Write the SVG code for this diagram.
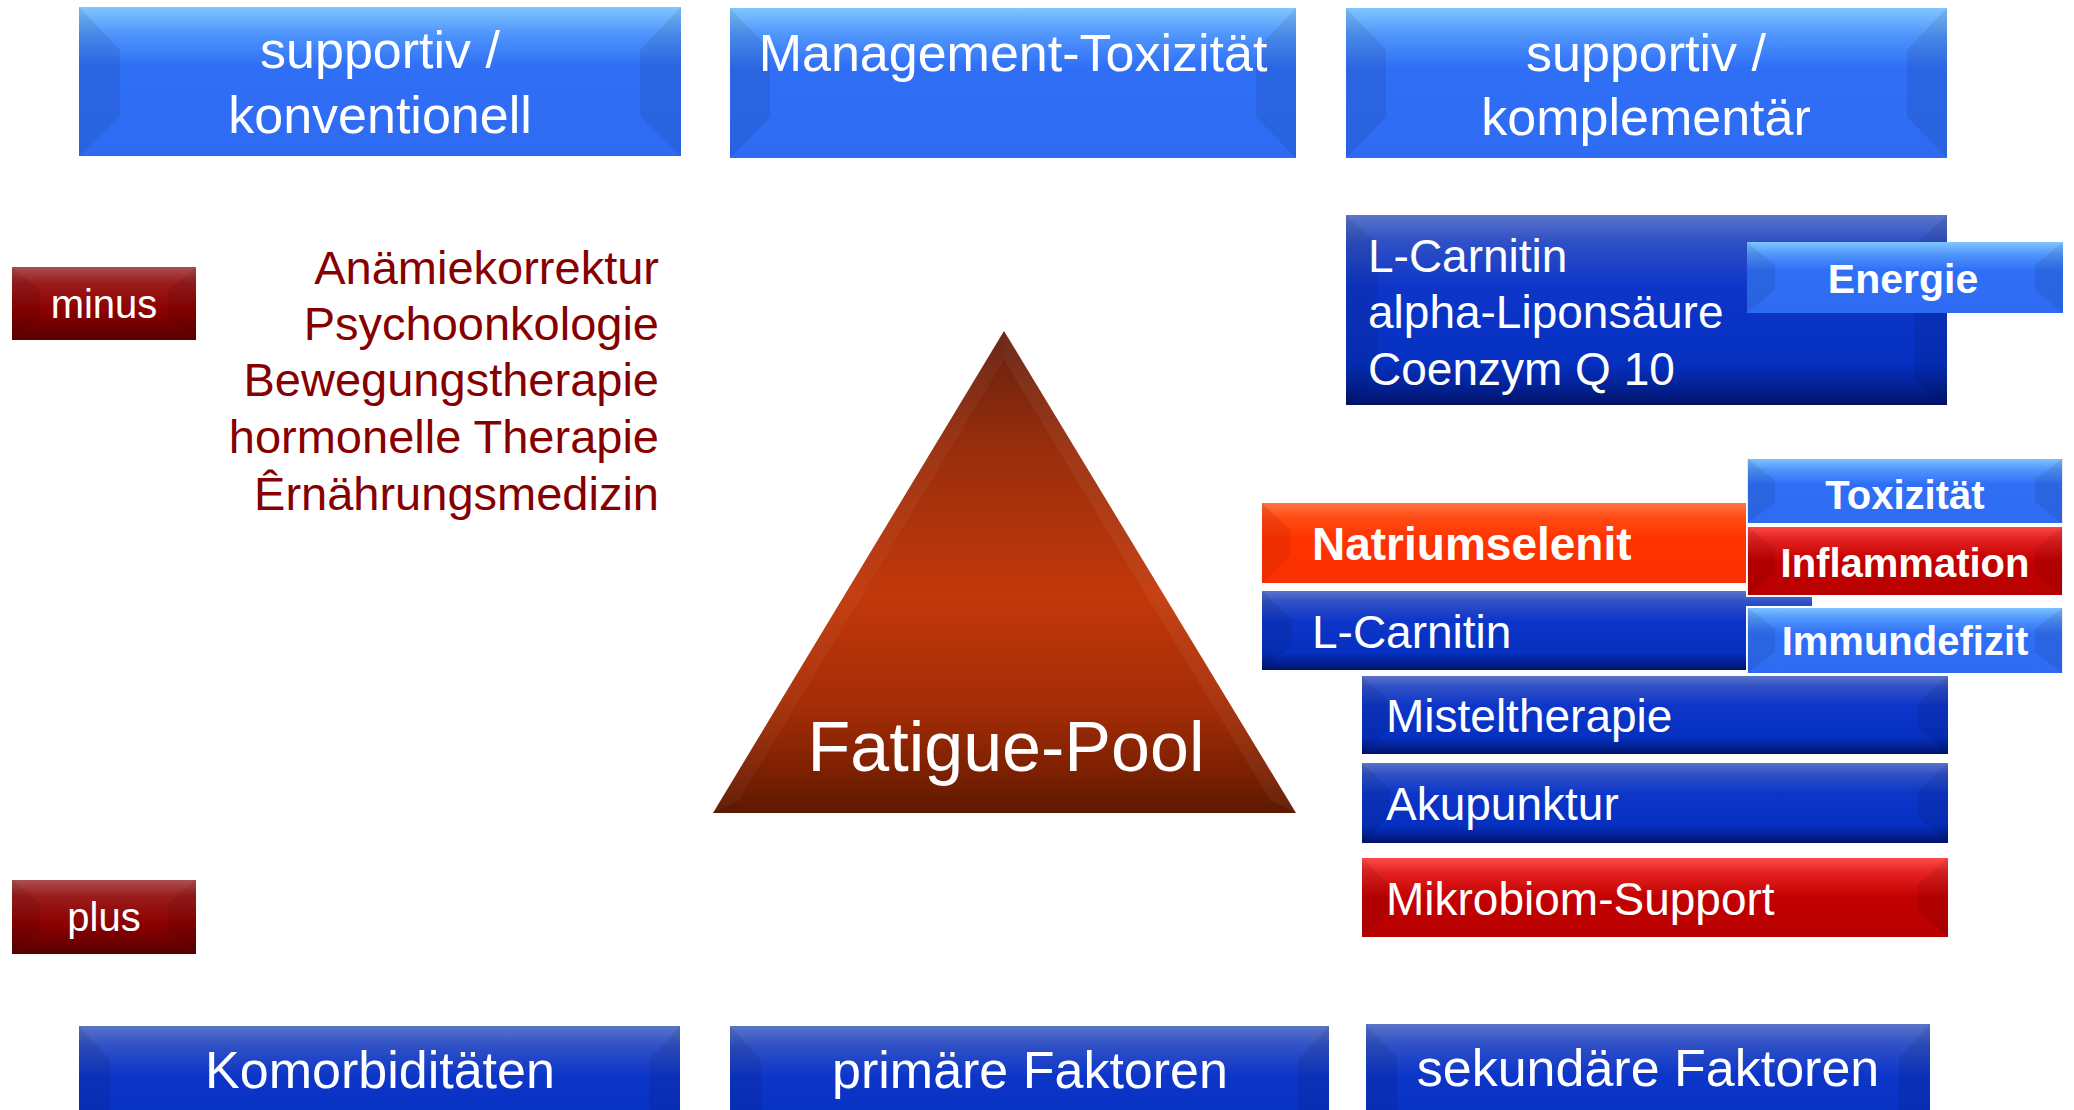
<svg xmlns="http://www.w3.org/2000/svg" width="2074" height="1110" viewBox="0 0 2074 1110">
<defs>
<linearGradient id="gBright" x1="0" y1="0" x2="0" y2="1">
<stop offset="0" stop-color="#80c6ff"/><stop offset="0.18" stop-color="#4f95fb"/><stop offset="0.4" stop-color="#2f6ff6"/><stop offset="1" stop-color="#2d6bf2"/>
</linearGradient>
<linearGradient id="gDark" x1="0" y1="0" x2="0" y2="1">
<stop offset="0" stop-color="#5a74c8"/><stop offset="0.14" stop-color="#2f50c6"/><stop offset="0.38" stop-color="#0d36c8"/><stop offset="0.78" stop-color="#0530c0"/><stop offset="0.92" stop-color="#021f8e"/><stop offset="1" stop-color="#001266"/>
</linearGradient>
<linearGradient id="gDarkBottom" x1="0" y1="0" x2="0" y2="1">
<stop offset="0" stop-color="#5a74c8"/><stop offset="0.2" stop-color="#2f50c6"/><stop offset="0.5" stop-color="#0d36c8"/><stop offset="1" stop-color="#0530c0"/>
</linearGradient>
<linearGradient id="gRed" x1="0" y1="0" x2="0" y2="1">
<stop offset="0" stop-color="#ff4a4a"/><stop offset="0.18" stop-color="#e42222"/><stop offset="0.5" stop-color="#c20000"/><stop offset="1" stop-color="#b80000"/>
</linearGradient>
<linearGradient id="gOrange" x1="0" y1="0" x2="0" y2="1">
<stop offset="0" stop-color="#ff7444"/><stop offset="0.18" stop-color="#ff4c14"/><stop offset="0.45" stop-color="#ff3300"/><stop offset="1" stop-color="#fa3000"/>
</linearGradient>
<linearGradient id="gMaroon" x1="0" y1="0" x2="0" y2="1">
<stop offset="0" stop-color="#ab5050"/><stop offset="0.22" stop-color="#9a1c1c"/><stop offset="0.6" stop-color="#8c0000"/><stop offset="1" stop-color="#580000"/>
</linearGradient>
<linearGradient id="gTri" x1="0" y1="0" x2="0" y2="1">
<stop offset="0" stop-color="#652010"/><stop offset="0.25" stop-color="#9a2e0c"/><stop offset="0.55" stop-color="#c2380a"/><stop offset="0.78" stop-color="#a42c06"/><stop offset="0.92" stop-color="#7a2002"/><stop offset="1" stop-color="#5c1800"/>
</linearGradient>
</defs>
<style>
.t{font-family:"Liberation Sans",Arial,sans-serif;fill:#ffffff}
.big{font-size:52px}
.mid{font-size:46px}
.bold{font-weight:bold;font-size:40px}
.red{font-family:"Liberation Sans",Arial,sans-serif;fill:#860000;font-size:47px}
.side{fill:#000000;opacity:0.08}
.edge{stroke:#ffffff;stroke-width:2}
</style>
<rect width="2074" height="1110" fill="#ffffff"/>

<g id="top-konventionell">
<rect x="79" y="7" width="602" height="149" fill="url(#gBright)"/>
<polygon class="side" points="79,7 120,50 120,116 79,156"/>
<polygon class="side" points="681,7 640,50 640,116 681,156"/>
<text class="t big" x="380" y="68" text-anchor="middle">supportiv /</text>
<text class="t big" x="380" y="133" text-anchor="middle">konventionell</text>
</g>
<g id="top-management">
<rect x="730" y="8" width="566" height="150" fill="url(#gBright)"/>
<polygon class="side" points="730,8 770,50 770,117 730,158"/>
<polygon class="side" points="1296,8 1256,50 1256,117 1296,158"/>
<text class="t big" x="1013" y="71" text-anchor="middle">Management-Toxizität</text>
</g>
<g id="top-komplementaer">
<rect x="1346" y="8" width="601" height="150" fill="url(#gBright)"/>
<polygon class="side" points="1346,8 1386,50 1386,117 1346,158"/>
<polygon class="side" points="1947,8 1907,50 1907,117 1947,158"/>
<text class="t big" x="1646" y="71" text-anchor="middle">supportiv /</text>
<text class="t big" x="1646" y="135" text-anchor="middle">komplementär</text>
</g>

<g id="minus">
<rect x="12" y="267" width="184" height="73" fill="url(#gMaroon)"/>
<polygon class="side" points="12,267 40,290 40,318 12,340"/>
<polygon class="side" points="196,267 168,290 168,318 196,340"/>
<text class="t" x="104" y="318" font-size="40" text-anchor="middle">minus</text>
</g>
<g id="plus">
<rect x="12" y="880" width="184" height="74" fill="url(#gMaroon)"/>
<polygon class="side" points="12,880 40,903 40,931 12,954"/>
<polygon class="side" points="196,880 168,903 168,931 196,954"/>
<text class="t" x="104" y="931" font-size="40" text-anchor="middle">plus</text>
</g>

<g id="konventionell-liste">
<text class="red" x="659" y="284" text-anchor="end">Anämiekorrektur</text>
<text class="red" x="659" y="340" text-anchor="end">Psychoonkologie</text>
<text class="red" x="659" y="396" text-anchor="end">Bewegungstherapie</text>
<text class="red" x="659" y="453" text-anchor="end">hormonelle Therapie</text>
<text class="red" x="659" y="510" text-anchor="end">Êrnährungsmedizin</text>
</g>

<g id="fatigue-pool">
<polygon points="1004,331 1296,813 713,813" fill="url(#gTri)"/>
<polygon points="1004,331 1296,813 1270,800 1004,360" fill="#ffffff" opacity="0.05"/>
<polygon points="1004,331 713,813 739,800 1004,360" fill="#ffffff" opacity="0.04"/>
<text class="t" x="1006" y="771" font-size="70" text-anchor="middle">Fatigue-Pool</text>
</g>

<g id="energie-stoffe">
<rect x="1346" y="215" width="601" height="190" fill="url(#gDark)"/>
<polygon class="side" points="1346,215 1378,245 1378,380 1346,405"/>
<polygon class="side" points="1947,215 1915,245 1915,380 1947,405"/>
<text class="t mid" x="1368" y="272">L-Carnitin</text>
<text class="t mid" x="1368" y="328">alpha-Liponsäure</text>
<text class="t mid" x="1368" y="385">Coenzym Q 10</text>
</g>
<g id="energie">
<rect x="1747" y="242" width="316" height="71" fill="url(#gBright)"/>
<polygon class="side" points="1747,242 1775,265 1775,290 1747,313"/>
<polygon class="side" points="2063,242 2035,265 2035,290 2063,313"/>
<text class="t" x="1903" y="293" font-size="41" font-weight="bold" text-anchor="middle">Energie</text>
</g>

<g id="natriumselenit">
<rect x="1262" y="503" width="486" height="80" fill="url(#gOrange)"/>
<polygon points="1262,503 1290,530 1290,556 1262,583" fill="#b02000" opacity="0.2"/>
<text class="t" x="1312" y="560" font-size="46" font-weight="bold">Natriumselenit</text>
</g>
<g id="l-carnitin">
<rect x="1262" y="591" width="550" height="79" fill="url(#gDark)"/>
<polygon class="side" points="1262,591 1292,620 1292,645 1262,670"/>
<text class="t mid" x="1312" y="648">L-Carnitin</text>
</g>

<g id="toxizitaet">
<rect class="edge" x="1747" y="458" width="316" height="66" fill="url(#gBright)"/>
<polygon class="side" points="1747,458 1775,480 1775,502 1747,524"/>
<polygon class="side" points="2063,458 2035,480 2035,502 2063,524"/>
<text class="t bold" x="1905" y="509" text-anchor="middle">Toxizität</text>
</g>
<g id="inflammation">
<rect class="edge" x="1747" y="526" width="316" height="70" fill="url(#gRed)"/>
<polygon class="side" points="1747,526 1775,549 1775,573 1747,596"/>
<polygon class="side" points="2063,526 2035,549 2035,573 2063,596"/>
<text class="t bold" x="1905" y="577" text-anchor="middle">Inflammation</text>
</g>
<g id="immundefizit">
<rect class="edge" x="1747" y="607" width="316" height="67" fill="url(#gBright)"/>
<polygon class="side" points="1747,607 1775,629 1775,652 1747,674"/>
<polygon class="side" points="2063,607 2035,629 2035,652 2063,674"/>
<text class="t bold" x="1905" y="655" text-anchor="middle">Immundefizit</text>
</g>

<g id="misteltherapie">
<rect x="1362" y="676" width="586" height="78" fill="url(#gDark)"/>
<polygon class="side" points="1362,676 1390,702 1390,728 1362,754"/>
<polygon class="side" points="1948,676 1918,702 1918,728 1948,754"/>
<text class="t mid" x="1386" y="732">Misteltherapie</text>
</g>
<g id="akupunktur">
<rect x="1362" y="763" width="586" height="80" fill="url(#gDark)"/>
<polygon class="side" points="1362,763 1390,790 1390,816 1362,843"/>
<polygon class="side" points="1948,763 1918,790 1918,816 1948,843"/>
<text class="t mid" x="1386" y="820">Akupunktur</text>
</g>
<g id="mikrobiom">
<rect x="1362" y="858" width="586" height="79" fill="url(#gRed)"/>
<polygon class="side" points="1362,858 1390,885 1390,910 1362,937"/>
<polygon class="side" points="1948,858 1918,885 1918,910 1948,937"/>
<text class="t mid" x="1386" y="915">Mikrobiom-Support</text>
</g>

<g id="komorbiditaeten">
<rect x="79" y="1026" width="601" height="100" fill="url(#gDarkBottom)"/>
<polygon class="side" points="79,1026 110,1060 110,1126 79,1126"/>
<polygon class="side" points="680,1026 649,1060 649,1126 680,1126"/>
<text class="t big" x="380" y="1088" text-anchor="middle">Komorbiditäten</text>
</g>
<g id="primaere">
<rect x="730" y="1026" width="599" height="100" fill="url(#gDarkBottom)"/>
<polygon class="side" points="730,1026 761,1060 761,1126 730,1126"/>
<polygon class="side" points="1329,1026 1298,1060 1298,1126 1329,1126"/>
<text class="t big" x="1030" y="1088" text-anchor="middle">primäre Faktoren</text>
</g>
<g id="sekundaere">
<rect x="1366" y="1024" width="564" height="102" fill="url(#gDarkBottom)"/>
<polygon class="side" points="1366,1024 1397,1058 1397,1126 1366,1126"/>
<polygon class="side" points="1930,1024 1899,1058 1899,1126 1930,1126"/>
<text class="t big" x="1648" y="1086" text-anchor="middle">sekundäre Faktoren</text>
</g>
<g id="connectors"></g>
</svg>
